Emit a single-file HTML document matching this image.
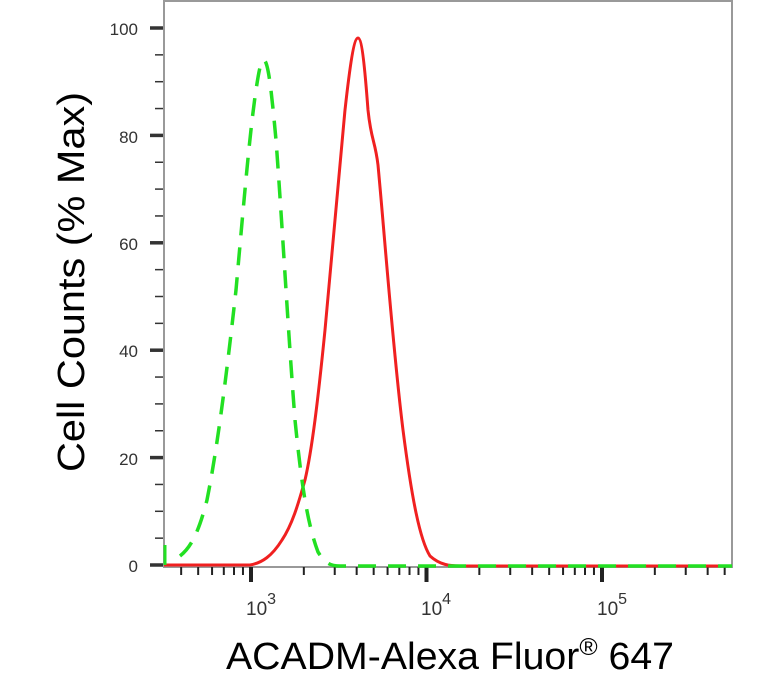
<!DOCTYPE html><html><head><style>body{margin:0;background:#fff}svg{display:block}</style></head><body>
<svg width="768" height="682" xmlns="http://www.w3.org/2000/svg" font-family="Liberation Sans, sans-serif">
<rect x="164" y="1" width="568" height="566" fill="none" stroke="#999" stroke-width="2"/>
<g id="yt" stroke="#333"></g>
<g id="xt" stroke="#222"></g>
<g fill="#333" font-size="17" text-anchor="end">
<text x="138" y="35">100</text><text x="138" y="143">80</text><text x="138" y="250">60</text><text x="138" y="357">40</text><text x="138" y="465">20</text><text x="138" y="572">0</text>
</g>
<g fill="#333" font-size="19">
<text x="246" y="615">10<tspan dy="-11" font-size="16">3</tspan></text>
<text x="421" y="615">10<tspan dy="-11" font-size="16">4</tspan></text>
<text x="597" y="615">10<tspan dy="-11" font-size="16">5</tspan></text>
</g>
<text x="450" y="669" font-size="38" text-anchor="middle" fill="#000" textLength="448" lengthAdjust="spacingAndGlyphs">ACADM-Alexa Fluor<tspan dy="-14" font-size="24">®</tspan><tspan dy="14"> 647</tspan></text>
<text transform="translate(84,282) rotate(-90)" font-size="38" text-anchor="middle" fill="#000" textLength="380" lengthAdjust="spacingAndGlyphs">Cell Counts (% Max)</text>
<path d="M164,565 L250,565 C262,563 272,556 282,540 C292,525 298,505 305,480 C312,450 318,400 325,330 C332,250 338,180 345,110 C350,65 354,38 358,38 C362,38 365,70 368,110 C371,140 375,140 378,165 C385,240 393,350 403,430 C412,500 420,540 430,556 C440,565 450,566 460,566 L732,566" fill="none" stroke="#f02020" stroke-width="3"/>
<path d="M180,556 C190,548 198,535 207,500 C217,450 226,380 236,290 C244,200 250,130 256,90 C259,70 261,60 264,60 C268,62 271,85 276,140 C282,220 288,330 295,420 C302,490 308,525 318,552 C325,563 330,566 340,566 L732,566" fill="none" stroke="#22e022" stroke-width="3.5" stroke-dasharray="18,12"/>
<line x1="165" y1="545" x2="165" y2="565" stroke="#22e022" stroke-width="3"/>
</svg>
<script>
var ns="http://www.w3.org/2000/svg",yt=document.getElementById('yt'),xt=document.getElementById('xt');
function L(g,x1,y1,x2,y2,w){var l=document.createElementNS(ns,'line');l.setAttribute('x1',x1);l.setAttribute('y1',y1);l.setAttribute('x2',x2);l.setAttribute('y2',y2);l.setAttribute('stroke-width',w);g.appendChild(l);}
for(var v=0;v<=100;v+=5){var y=565-v*5.37;if(v%20==0)L(yt,150,y,163,y,3.5);else L(yt,155,y,163,y,1.5);}
for(var d=2;d<=5;d++)for(var m=1;m<10;m++){var x=251+(d-3+Math.log10(m))*175.5;if(x<166||x>731)continue;if(m==1)L(xt,x,567,x,582,4);else L(xt,x,567,x,575,2);}
</script>
</body></html>
